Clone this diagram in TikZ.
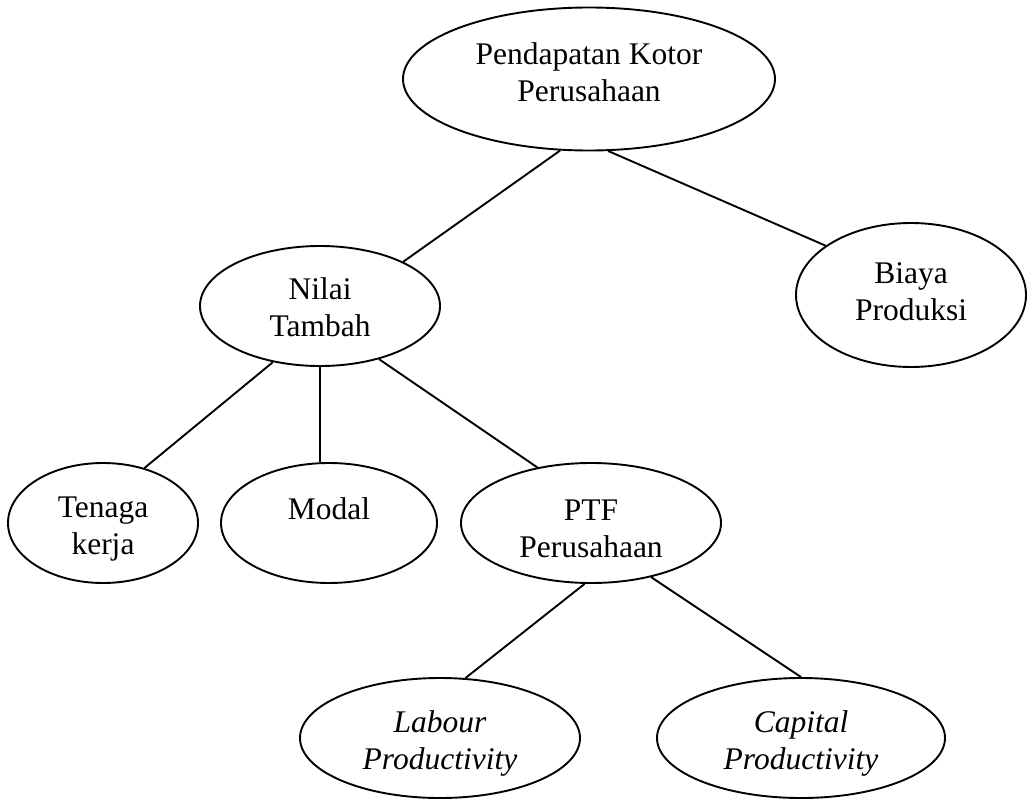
\documentclass[tikz,border=0pt]{standalone}
\usepackage{fontspec}
\setmainfont{Liberation Serif}
\usetikzlibrary{shapes.geometric}
\begin{document}
\begin{tikzpicture}[x=1pt,y=-1pt,
  oval/.style={ellipse, draw, line width=1.9pt, inner sep=0pt},
  txt/.style={inner sep=0pt, align=center, font=\fontsize{31.5}{37}\selectfont},
  link/.style={line width=1.9pt}]
\fill[white] (0,0) rectangle (1028,800);
\useasboundingbox (0,0) rectangle (1028,800);
\node[oval, minimum width=372pt, minimum height=143pt,
  label={[txt, name=toptext, yshift=6.5pt]center:{Pendapatan Kotor\\Perusahaan}}] (top) at (589,79) {};
\node[oval, minimum width=240pt, minimum height=120pt,
  label={[txt, name=nilaitext, yshift=-1pt]center:{Nilai\\Tambah}}] (nilai) at (320,306) {};
\node[oval, minimum width=230pt, minimum height=144pt,
  label={[txt, name=biayatext, yshift=3pt]center:{Biaya\\Produksi}}] (biaya) at (911,295) {};
\node[oval, minimum width=190pt, minimum height=120pt,
  label={[txt, name=tenagatext, yshift=-6pt]center:{Tenaga\\kerja}}] (tenaga) at (103,523) {};
\node[oval, minimum width=216pt, minimum height=120pt,
  label={[txt, name=modaltext, yshift=-4pt]center:{Modal\\\mbox{}}}] (modal) at (329,523) {};
\node[oval, minimum width=260pt, minimum height=120pt,
  label={[txt, name=ptftext, yshift=-6pt]center:{PTF\\Perusahaan}}] (ptf) at (591,523) {};
\node[oval, minimum width=280pt, minimum height=120pt,
  label={[txt, name=labourtext, yshift=-5pt]center:{\itshape Labour\\\itshape Productivity}}] (labour) at (440,738) {};
\node[oval, minimum width=288pt, minimum height=120pt,
  label={[txt, name=capitaltext, yshift=-5pt]center:{\itshape Capital\\\itshape Productivity}}] (capital) at (801,738) {};
\draw[link] (top.248.5) -- (nilai.28);
\draw[link] (top.285.7) -- (biaya.150);
\draw[link] (nilai.230) -- (tenaga.53);
\draw[link] (nilai.south) -- (nilai.south |- modal.north);
\draw[link] (nilai.318.5) -- (ptf.134);
\draw[link] (ptf.264) -- (labour.67);
\draw[link] (ptf.318) -- (capital.north);
\end{tikzpicture}
\end{document}
